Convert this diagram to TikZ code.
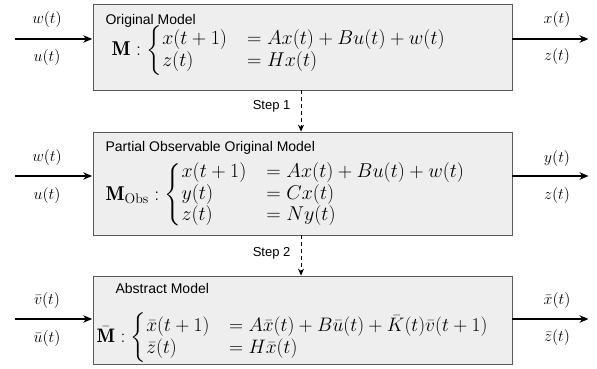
\RequirePackage{fix-cm}
\documentclass[tikz,border=0pt]{standalone}
\usepackage{amsmath}
\usepackage{fontspec}
\setsansfont{Liberation Sans}
\usetikzlibrary{arrows.meta}
\definecolor{boxfill}{HTML}{EEEEEE}
\definecolor{boxline}{HTML}{5A5A5A}

\begin{document}
\begin{tikzpicture}[
    x=1pt, y=-1pt,
    >={Stealth[length=9pt, width=7.5pt]},
    line width=1.2pt,
    modelbox/.style={draw=boxline, fill=boxfill, line width=0.7pt, minimum width=419pt, inner sep=0pt},
    boxtitle/.style={anchor=base west, inner sep=0pt, font=\sffamily\fontsize{14}{16}\selectfont},
    boxmath/.style={anchor=west, inner sep=0pt, font=\fontsize{20}{18}\selectfont},
    signal/.style={inner sep=0pt, font=\fontsize{16}{18}\selectfont},
    flow/.style={->, line width=1.2pt, shorten >=0.5pt},
    stepflow/.style={-{Stealth[length=7pt, width=6pt]}, dashed, dash pattern=on 4pt off 3pt, line width=1pt},
    steplabel/.style={anchor=east, inner sep=0pt, font=\sffamily\fontsize{13}{15}\selectfont}
]
    \useasboundingbox (0,0) rectangle (597,369);

    % Original Model
    \node[modelbox, minimum height=86pt] (orig) at (302.5,47) {};
    \node[boxtitle] (origtitle) at (105,25) {Original Model};
    \node[boxmath] (origeq) at (111,51) {$\mathbf{M}:\begin{cases}
        x(t+1) & = Ax(t)+Bu(t)+w(t)\\
        z(t) & = Hx(t)
    \end{cases}$};

    % Partial Observable Original Model
    \node[modelbox, minimum height=103pt] (obs) at (302.5,183.5) {};
    \node[boxtitle] (obstitle) at (105,151) {Partial Observable Original Model};
    \node[boxmath] (obseq) at (105,195) {$\mathbf{M}_{\mathrm{Obs}}:\begin{cases}
        x(t+1) & = Ax(t)+Bu(t)+w(t)\\
        y(t) & = Cx(t)\\
        z(t) & = Ny(t)
    \end{cases}$};

    % Abstract Model
    \node[modelbox, minimum height=88pt] (abs) at (302.5,320) {};
    \node[boxtitle] (abstitle) at (115,293) {Abstract Model};
    \node[boxmath, font=\fontsize{19.5}{18}\selectfont] (abseq) at (96,338) {$\bar{\mathbf{M}}:\begin{cases}
        \bar{x}(t+1) & = A\bar{x}(t)+B\bar{u}(t)+\bar{K}(t)\bar{v}(t+1)\\
        \bar{z}(t) & = H\bar{x}(t)
    \end{cases}$};

    % Inputs
    \coordinate (in1) at (15,39);
    \coordinate (in2) at (15,176);
    \coordinate (in3) at (15,319);
    \draw[flow] (in1) -- (in1 -| orig.west);
    \draw[flow] (in2) -- (in2 -| obs.west);
    \draw[flow] (in3) -- (in3 -| abs.west);
    \node[signal] (w1) at (47,20) {$w(t)$};
    \node[signal] (u1) at (47,58) {$u(t)$};
    \node[signal] (w2) at (47,157) {$w(t)$};
    \node[signal] (u2) at (47,195) {$u(t)$};
    \node[signal] (v3) at (47,300) {$\bar{v}(t)$};
    \node[signal] (u3) at (47,338) {$\bar{u}(t)$};

    % Outputs
    \coordinate (out1) at (589,39);
    \coordinate (out2) at (589,176);
    \coordinate (out3) at (589,319);
    \draw[flow] (out1 -| orig.east) -- (out1);
    \draw[flow] (out2 -| obs.east) -- (out2);
    \draw[flow] (out3 -| abs.east) -- (out3);
    \node[signal] (x1) at (557,20) {$x(t)$};
    \node[signal] (z1) at (557,57) {$z(t)$};
    \node[signal] (y2) at (557,158) {$y(t)$};
    \node[signal] (z2) at (557,195) {$z(t)$};
    \node[signal] (x3) at (557,300) {$\bar{x}(t)$};
    \node[signal] (z3) at (557,337) {$\bar{z}(t)$};

    % Steps
    \draw[stepflow] ([xshift=-1.5pt]orig.south) -- ([xshift=-1.5pt]obs.north);
    \draw[stepflow] ([xshift=-1.5pt]obs.south) -- ([xshift=-1.5pt]abs.north);
    \node[steplabel] (step1) at (291,106) {Step 1};
    \node[steplabel] (step2) at (291,253) {Step 2};

\end{tikzpicture}
\end{document}
